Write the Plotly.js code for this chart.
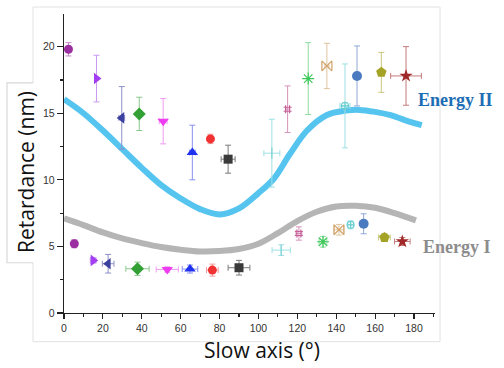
<!DOCTYPE html>
<html>
<head>
<meta charset="utf-8">
<script src="https://cdn.plot.ly/plotly-3.0.1.min.js"></script>
<style>
  html, body { margin: 0; padding: 0; background: #fff; }
  #chart { width: 504px; height: 368px; }
</style>
</head>
<body>
<div id="chart"></div>
<script>
// measured points, Energy II (upper) and Energy I (lower)
const angleII = [2.3, 16.7, 29.7, 38.7, 51, 66, 75.3, 84.4, 106.9, 115, 125.6, 135.2, 144.5, 150.7, 163.2, 175.9];
const retII   = [19.8, 17.6, 14.65, 14.95, 14.4, 12.05, 13.07, 11.55, 12.0, 15.3, 17.6, 18.55, 15.55, 17.8, 18.07, 17.8];
const errII   = [0.5, 1.75, 2.35, 1.25, 1.7, 2.05, 0.35, 1.05, 2.55, 1.75, 2.7, 1.7, 3.15, 2.25, 1.5, 2.2];
const xerrII  = [0, 0, 1.5, 0, 2, 1.5, 0, 3.6, 4.1, 1, 0, 1, 2.6, 1.5, 1, 7.9];

const angleI = [5.3, 15, 22.7, 37.8, 53.1, 64.8, 76.3, 90, 111.7, 120.8, 133.2, 141.4, 147.4, 154.1, 164.8, 174];
const retI   = [5.2, 3.95, 3.7, 3.32, 3.27, 3.3, 3.22, 3.4, 4.72, 5.97, 5.35, 6.25, 6.62, 6.7, 5.67, 5.37];
const errI   = [0.3, 0.2, 0.7, 0.5, 0.2, 0.3, 0.45, 0.55, 0.4, 0.5, 0.4, 0.4, 0.3, 0.75, 0.3, 0.3];
const xerrI  = [0, 1.5, 3, 6, 5.7, 4, 3, 5.6, 4.7, 1.5, 2, 2.5, 1.5, 1, 3, 4];

const markerColors = ["#9c2fa0", "#a33ef2", "#3b3f9e", "#33a035", "#ee3cf0", "#1f30f0", "#f03232", "#3a3a3a",
                      "#7fd2d6", "#c8609a", "#3cc85a", "#d2a46c", "#6ccfd0", "#4a7ac0", "#a5a326", "#a02828"];
const errColors    = ["#c58ac8", "#c99af0", "#8c8fc8", "#8ac88b", "#f09af2", "#8890f2", "#f29a9a", "#7a7a7a",
                      "#9ee0e3", "#d892b8", "#8fdc9f", "#e0c49e", "#9ee0e3", "#8fa9d6", "#c8c77a", "#c47a7a"];
const symbols = ["circle", "triangle-right", "triangle-left", "diamond", "triangle-down", "triangle-up", "circle", "square",
                 "line-ns-open", "hash-open", "asterisk-open", "bowtie-open", "circle-cross-open", "circle", "pentagon", "star"];
const markerSizes = [9, 10, 10, 10, 10, 10, 9, 9, 8, 8, 10, 10, 7, 10, 11, 10];

// fitted curves
const curveIIx = [0, 10, 20, 30, 40, 50, 60, 70, 80, 90, 100, 108, 116, 125, 135, 145, 152, 160, 168, 176, 184];
const curveIIy = [16.05, 15.0, 13.7, 12.3, 10.9, 9.6, 8.6, 7.8, 7.4, 7.85, 9.0, 10.1, 11.9, 13.7, 14.85, 15.2, 15.25, 15.1, 14.85, 14.45, 14.1];
const curveIx = [0, 10, 20, 30, 40, 50, 60, 70, 80, 90, 100, 110, 120, 130, 140, 150, 160, 170, 181];
const curveIy = [7.1, 6.6, 6.05, 5.6, 5.25, 4.95, 4.75, 4.62, 4.65, 4.8, 5.2, 6.0, 6.9, 7.6, 8.0, 8.05, 7.9, 7.5, 6.95];

function pointTrace(x, y, ey, ex, i) {
  return {
    type: "scatter",
    mode: "markers",
    x: [x], y: [y],
    error_y: { type: "data", array: [ey], color: errColors[i], thickness: 1, width: 3, visible: ey > 0 },
    error_x: { type: "data", array: [ex], color: errColors[i], thickness: 1, width: 3, visible: ex > 0 },
    marker: {
      symbol: symbols[i],
      size: markerSizes[i],
      color: markerColors[i],
      line: { color: markerColors[i], width: symbols[i].endsWith("open") ? 1.2 : 0 }
    },
    hoverinfo: "x+y"
  };
}

const traces = [
  { type: "scatter", mode: "lines", x: curveIIx, y: curveIIy,
    line: { color: "#55c4ef", width: 6, shape: "spline", smoothing: 1 } },
  { type: "scatter", mode: "lines", x: curveIx, y: curveIy,
    line: { color: "#b5b5b5", width: 6, shape: "spline", smoothing: 1 } }
];
angleII.forEach((a, i) => traces.push(pointTrace(a, retII[i], errII[i], xerrII[i], i)));
angleI.forEach((a, i) => traces.push(pointTrace(a, retI[i], errI[i], xerrI[i], i)));

const frame = "#e2e2e2";

const layout = {
  width: 504,
  height: 368,
  margin: { l: 64, r: 69, t: 14, b: 55 },
  paper_bgcolor: "#fff",
  plot_bgcolor: "#fff",
  showlegend: false,
  font: { family: "Liberation Sans, Arial, sans-serif", color: "#333", size: 10.5 },
  xaxis: {
    range: [0, 190.8],
    tickvals: [0, 20, 40, 60, 80, 100, 120, 140, 160, 180],
    ticks: "outside", ticklen: 5, tickwidth: 1.2, tickcolor: "#222",
    minor: { dtick: 10, tick0: 0, ticks: "outside", ticklen: 3, tickwidth: 1.2, tickcolor: "#222" },
    showline: true, linecolor: "#222", linewidth: 1.3,
    showgrid: false, zeroline: false,
    tickfont: { size: 10.5, color: "#333" }
  },
  yaxis: {
    range: [0, 22.45],
    tickvals: [0, 5, 10, 15, 20],
    ticks: "outside", ticklen: 6, tickwidth: 1.2, tickcolor: "#222",
    minor: { dtick: 2.5, tick0: 0, ticks: "outside", ticklen: 3, tickwidth: 1.2, tickcolor: "#222" },
    showline: true, linecolor: "#222", linewidth: 1.3,
    showgrid: false, zeroline: false,
    tickfont: { size: 10.5, color: "#333" }
  },
  shapes: [
    { type: "rect", xref: "paper", yref: "paper", x0: -0.0836, x1: 1.0135, y0: -0.0959, y1: 1.0234,
      line: { color: frame, width: 1 }, layer: "below" },
    { type: "rect", xref: "paper", yref: "paper", x0: -0.1536, x1: -0.075, y0: 0.168, y1: 0.7695,
      fillcolor: "#fff", line: { width: 0 }, layer: "below" },
    { type: "path", xref: "paper", yref: "paper",
      path: "M -0.0836 0.7695 L -0.1536 0.7695 L -0.1536 0.168 L -0.0836 0.168",
      line: { color: "#d8d8d8", width: 1.2 }, layer: "below" }
  ],
  annotations: [
    { text: "Retardance (nm)", xref: "paper", yref: "paper", x: -0.1024, y: 0.472,
      textangle: -90, showarrow: false, xanchor: "center", yanchor: "middle",
      font: { family: "Open Sans, sans-serif", size: 21, color: "#111" } },
    { text: "Slow axis (\u00b0)", xref: "paper", yref: "paper", x: 0.534, y: -0.123,
      showarrow: false, xanchor: "center", yanchor: "middle",
      font: { family: "Open Sans, sans-serif", size: 21, color: "#111" } },
    { text: "<b>Energy II</b>", xref: "paper", yref: "paper", x: 1.055, y: 0.713,
      showarrow: false, xanchor: "center", yanchor: "middle",
      font: { family: "Liberation Serif, Times New Roman, serif", size: 18, color: "#1d6db5" } },
    { text: "<b>Energy I</b>", xref: "paper", yref: "paper", x: 1.058, y: 0.2215,
      showarrow: false, xanchor: "center", yanchor: "middle",
      font: { family: "Liberation Serif, Times New Roman, serif", size: 18, color: "#8c8c8c" } }
  ]
};

Plotly.newPlot("chart", traces, layout, { displayModeBar: false, staticPlot: true });
</script>
</body>
</html>
